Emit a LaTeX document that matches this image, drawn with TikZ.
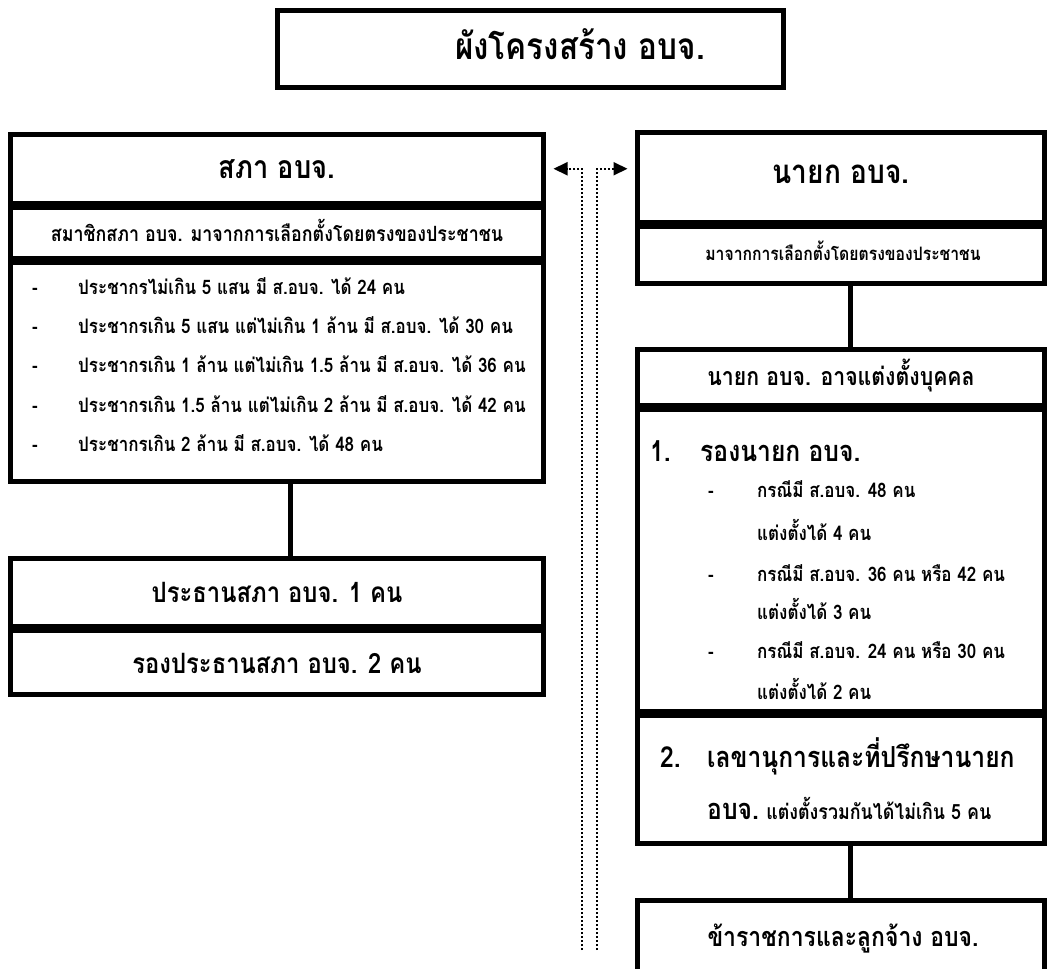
\documentclass[tikz,border=0pt]{standalone}
\usepackage{fontspec}
\newfontfamily\thaifont[Script=Thai, FakeStretch=0.85]{Loma}
\usetikzlibrary{arrows.meta}
\newcommand\mkbox[5]{\node[boxst, minimum width={#4pt-#2pt}, minimum height={#5pt-#3pt}] (#1) at ({(#2+#4)/2},{(#3+#5)/2}) {};}
\newcommand\fs[1]{\thaifont\bfseries\fontsize{#1}{#1}\selectfont}
\begin{document}
\begin{tikzpicture}[x=1pt,y=-1pt,
  boxst/.style={draw, line width=5pt, inner sep=0pt, outer sep=0pt},
  txt/.style={inner sep=0pt, anchor=base},
  txtw/.style={inner sep=0pt, anchor=base west},
  conn/.style={line width=5pt},
  dotline/.style={line width=2pt, dotted, line cap=butt},
  tipst/.style={-{Triangle[length=14pt,width=13pt]}}]
\useasboundingbox (0,0) rectangle (1052,969);
\clip (0,0) rectangle (1052,969);
% title
\mkbox{title}{277.5}{10.5}{783.5}{87.5}
\node[txt, font=\fs{37}] (ttitle) at (580,59) {ผังโครงสร้าง อบจ.};
% left column
\mkbox{b1}{10.5}{134.5}{543.5}{203}
\mkbox{b2}{10.5}{207}{543.5}{258}
\mkbox{b3}{10.5}{262}{543.5}{481}
\mkbox{b4}{10.5}{558.5}{543.5}{626}
\mkbox{b5}{10.5}{630}{543.5}{694}
\node[txt, font=\fs{32}] (tb1) at (277,178) {สภา อบจ.};
\node[txt, font=\fs{21}] (tb2) at (277,241) {สมาชิกสภา อบจ. มาจากการเลือกตั้งโดยตรงของประชาชน};
\foreach \yy/\tt [count=\i] in {288/{ประชากรไม่เกิน 5 แสน มี ส.อบจ. ได้ 24 คน},
  327/{ประชากรเกิน 5 แสน แต่ไม่เกิน 1 ล้าน มี ส.อบจ. ได้ 30 คน},
  366/{ประชากรเกิน 1 ล้าน แต่ไม่เกิน 1.5 ล้าน มี ส.อบจ. ได้ 36 คน},
  406/{ประชากรเกิน 1.5 ล้าน แต่ไม่เกิน 2 ล้าน มี ส.อบจ. ได้ 42 คน},
  445/{ประชากรเกิน 2 ล้าน มี ส.อบจ. ได้ 48 คน}}{
  \node[txtw, font=\fs{20}] (ld\i) at (32,\yy+6) {-};
  \node[txtw, font=\fs{20}] (li\i) at (78,\yy+6) {\tt};
}
\node[txt, font=\fs{28}] (tb4) at (277,602) {ประธานสภา อบจ. 1 คน};
\node[txt, font=\fs{28}] (tb5) at (277,673) {รองประธานสภา อบจ. 2 คน};
\draw[conn] (290,0 |- b3.south) -- (290,0 |- b4.north);
% right column
\mkbox{r1}{637.5}{132.5}{1044.5}{222}
\mkbox{r2}{637.5}{226}{1044.5}{283}
\mkbox{r3}{637.5}{349}{1044.5}{405}
\mkbox{r4}{637.5}{409}{1044.5}{711}
\mkbox{r5}{637.5}{715}{1044.5}{843}
\mkbox{r6}{637.5}{900.5}{1044.5}{990}
\node[txt, font=\fs{33}] (tr1) at (841,183) {นายก อบจ.};
\node[txt, font=\fs{18.5}] (tr2) at (843,260.5) {มาจากการเลือกตั้งโดยตรงของประชาชน};
\node[txt, font=\fs{25}] (tr3) at (841,385) {นายก อบจ. อาจแต่งตั้งบุคคล};
\node[txtw, font=\fs{29}] (n1) at (650,461) {1.};
\node[txtw, font=\fs{29}] (h1) at (700,461) {รองนายก อบจ.};
\foreach \yy/\dd/\tt [count=\i] in {491/-/{กรณีมี ส.อบจ. 48 คน},
  534//{แต่งตั้งได้ 4 คน},
  575/-/{กรณีมี ส.อบจ. 36 คน หรือ 42 คน},
  613//{แต่งตั้งได้ 3 คน},
  652/-/{กรณีมี ส.อบจ. 24 คน หรือ 30 คน},
  693//{แต่งตั้งได้ 2 คน}}{
  \node[txtw, font=\fs{20}] (rd\i) at (708,\yy+6) {\dd};
  \node[txtw, font=\fs{20}] (ri\i) at (757,\yy+6) {\tt};
}
\node[txtw, font=\fs{29}] (n2) at (660,767) {2.};
\node[txtw, font=\fs{29}] (h2) at (707,767) {เลขานุการและที่ปรึกษานายก};
\node[txtw, font=\fs{29}] (h2b) at (707,819) {อบจ.};
\node[txtw, font=\fs{21}] (h2c) at ([xshift=7pt]h2b.base east) {แต่งตั้งรวมกันได้ไม่เกิน 5 คน};
\node[txt, font=\fs{27}] (tr6) at (843,946) {ข้าราชการและลูกจ้าง อบจ.};
\draw[conn] (850,0 |- r2.south) -- (850,0 |- r3.north);
\draw[conn] (850,0 |- r5.south) -- (850,0 |- r6.north);
% dotted arrows
\coordinate (dl) at (582,950);
\coordinate (dr) at (597,950);
\draw[dotline, tipst, shorten >=10pt] (dl) |- (b1.east);
\draw[dotline, tipst, shorten >=10pt] (dr) |- (r1.west |- b1.east);
\end{tikzpicture}
\end{document}
